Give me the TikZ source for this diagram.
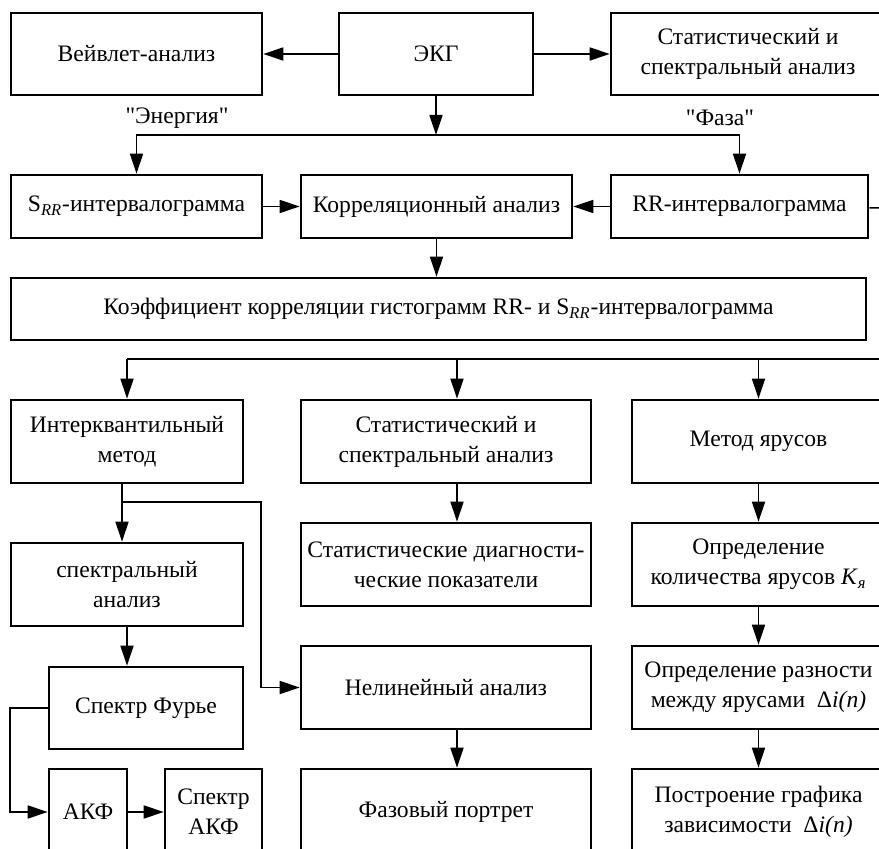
\documentclass[tikz,border=0pt]{standalone}
\usepackage{fontspec}
\setmainfont{Liberation Serif}
\usetikzlibrary{arrows.meta}

\tikzset{boxsize/.style 2 args={minimum width=#1pt,minimum height=#2pt}}

\begin{document}
\begin{tikzpicture}[x=0.5pt,y=-0.5pt]
            \useasboundingbox (0,0) rectangle (879,849);
            \clip (0,0) rectangle (879,849);

            \begin{scope}[every node/.style={draw,line width=1.3pt,align=center,inner sep=0pt,
                          font=\fontsize{11.8}{15}\selectfont}]
                \node[boxsize={125.5}{41}] (wavelet) at (136.5,54) {Вейвлет-анализ};
                \node[boxsize={97}{41}] (ekg) at (436,54) {ЭКГ};
                \node[boxsize={137}{41}] (stat) at (748,54) {Статистический и\\спектральный анализ};
                \node[boxsize={125.5}{31.5}] (srr) at (136.5,206.5) {S\textsubscript{\textit{RR}}-интервалограмма};
                \node[boxsize={135.5}{31.5}] (corr) at (436.5,206.5) {Корреляционный анализ};
                \node[boxsize={128.5}{31.5}] (rr) at (739.5,206.5) {RR-интервалограмма};
                \node[boxsize={427.5}{31}] (coef) at (438.5,309) {Коэффициент корреляции гистограмм RR- и S\textsubscript{\textit{RR}}-интервалограмма};
                \node[boxsize={116}{41.5}] (interq) at (127,441.5) {Интерквантильный\\метод};
                \node[boxsize={145}{41.5}] (stat2) at (446,441.5) {Статистический и\\спектральный анализ};
                \node[boxsize={126.5}{41.5}] (tiers) at (758.5,441.5) {Метод ярусов};
                \node[boxsize={116}{41.5}] (spec) at (127,584.5) {спектральный\\анализ};
                \node[boxsize={145}{41.5}] (diag) at (446,564.5) {Статистические диагности-\\ческие показатели};
                \node[boxsize={126.5}{41.5}] (count) at (758.5,564.5) {Определение\\количества ярусов \textit{K}\textsubscript{\textit{я}}};
                \node[boxsize={97}{41}] (fourier) at (146,708) {Спектр Фурье};
                \node[boxsize={145}{41.5}] (nonlin) at (446,687.5) {Нелинейный анализ};
                \node[boxsize={126.5}{41.5}] (diff) at (758.5,687.5) {Определение разности\\между ярусами\ \ Δ\textit{i(n)}};
                \node[boxsize={39}{43}] (akf) at (88,812) {АКФ};
                \node[boxsize={48.5}{43}] (sakf) at (213.5,812) {Спектр\\АКФ};
                \node[boxsize={145}{43}] (phase) at (446,812) {Фазовый портрет};
                \node[boxsize={126.5}{43}] (plot) at (758.5,812) {Построение графика\\зависимости\ \ Δ\textit{i(n)}};
            \end{scope}

            \begin{scope}[every node/.style={font=\fontsize{11.8}{15}\selectfont}]
                \node (energy) at (177,118) {\textquotedbl Энергия\textquotedbl};
                \node (phasel) at (720,118) {\textquotedbl Фаза\textquotedbl};
            \end{scope}

            % branch points
            \coordinate (split) at (436,135);
            \coordinate (rrout) at (885,208);
            \coordinate (distr) at (885,359);
            \coordinate (mid) at (457,359);
            \coordinate (branch) at (122,502);
            \coordinate (bend) at (261,502);
            \coordinate (loop) at (10,708);

            \begin{scope}[>={Triangle[length=10pt,width=6.5pt]},line width=0.8pt,
                          every edge/.style={draw=black,line width=0.8pt}]
                \path [->] (ekg) edge (wavelet);
                \path [->] (ekg) edge (stat);
                \draw [->] (ekg) -- (split);
                \draw [->] (split) -| (srr);
                \draw [->] (split) -| (rr);
                \path [->] (srr) edge (corr);
                \path [->] (rr) edge (corr);
                \draw (rr) -- (rrout);
                \draw [->] (corr.south) -- (corr.south |- coef.north);
                \draw (distr) -- (interq.north |- distr);
                \draw [->] (interq.north |- distr) -- (interq);
                \draw [->] (mid) -- (mid |- stat2.north);
                \draw [->] (tiers.north |- distr) -- (tiers);
                \draw (branch |- interq.south) -- (branch);
                \draw [->] (branch) -- (branch |- spec.north);
                \draw [->] (branch) -- (bend) |- (nonlin);
                \draw [->] (spec.south) -- (spec.south |- fourier.north);
                \draw [->] (mid |- stat2.south) -- (mid |- diag.north);
                \draw [->] (mid |- nonlin.south) -- (mid |- phase.north);
                \path [->] (tiers) edge (count);
                \path [->] (count) edge (diff);
                \path [->] (diff) edge (plot);
                \draw [->] (fourier) -- (loop) |- (akf);
                \path [->] (akf) edge (sakf);
            \end{scope}
        \end{tikzpicture}
\end{document}
